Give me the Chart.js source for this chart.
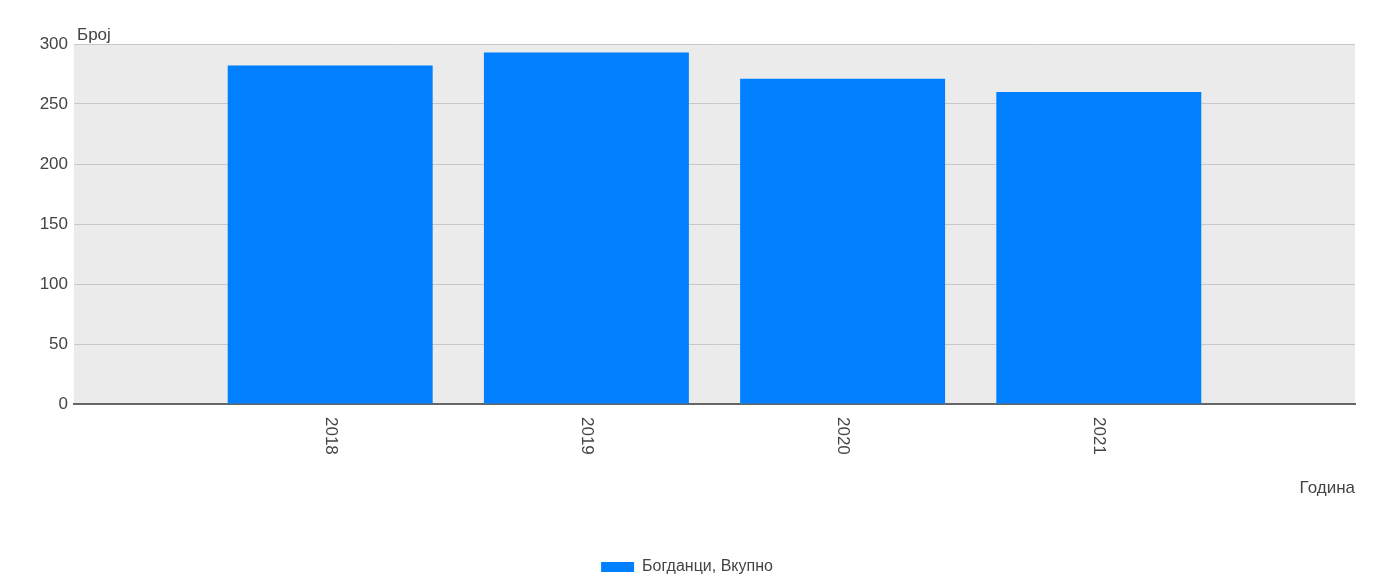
<!DOCTYPE html>
<html>
<head>
<meta charset="utf-8">
<script src="https://cdn.jsdelivr.net/npm/chart.js@4"></script>
<style>
  html, body { margin: 0; padding: 0; background: #fff; }
  #wrap { width: 1374px; height: 586px; }
</style>
</head>
<body>
<div id="wrap"><canvas id="grafico" width="1374" height="586"></canvas></div>
<script>
var godini = ['2018', '2019', '2020', '2021'];
var vrednosti = [282, 293, 271, 260];
var serija = 'Богданци, Вкупно';
var yTicks = [0, 50, 100, 150, 200, 250, 300];

// prazni kategorii na krajevite za da se dobie prostor levo i desno
var labels = [''].concat(godini, ['']);
var podatoci = [null].concat(vrednosti, [null]);

var fontFam = '"Liberation Sans", Arial, sans-serif';

var pozadina = {
    id: 'pozadina',
    beforeDraw: function (chart) {
        var a = chart.chartArea, ctx = chart.ctx;
        ctx.save();
        ctx.fillStyle = '#ebebeb';
        ctx.fillRect(a.left, a.top, a.right - a.left, a.bottom - a.top);
        ctx.restore();
    },
    afterDraw: function (chart) {
        var ctx = chart.ctx, x = chart.scales.x, a = chart.chartArea;
        ctx.save();
        ctx.fillStyle = '#444';
        ctx.font = '17px ' + fontFam;
        // naslov na y oskata
        ctx.textAlign = 'left';
        ctx.textBaseline = 'middle';
        ctx.fillText('Број', a.left + 3, a.top - 9);
        // godini, rotirani odozgora nadolu
        godini.forEach(function (g, i) {
            var px = x.getPixelForValue(i + 1);
            ctx.save();
            ctx.translate(px, a.bottom + 13);
            ctx.rotate(Math.PI / 2);
            ctx.textAlign = 'left';
            ctx.textBaseline = 'middle';
            ctx.fillText(g, 0, 0);
            ctx.restore();
        });
        ctx.restore();
    }
};

var chart = new Chart(document.getElementById('grafico').getContext('2d'), {
    type: 'bar',
    data: {
        labels: labels,
        datasets: [{
            label: serija,
            data: podatoci,
            backgroundColor: '#0080ff',
            borderWidth: 0,
            categoryPercentage: 1,
            barPercentage: 0.8
        }]
    },
    options: {
        responsive: false,
        animation: false,
        layout: { padding: { top: 44, right: 19, left: 19, bottom: 1 } },
        scales: {
            x: {
                offset: false,
                grid: { display: false },
                border: { display: true, color: '#666', width: 2 },
                ticks: { display: false },
                title: {
                    display: true,
                    text: 'Година',
                    align: 'end',
                    color: '#444',
                    font: { family: fontFam, size: 17 },
                    padding: { top: 0, bottom: 0 }
                },
                afterFit: function (s) { s.height = 95; }
            },
            y: {
                min: 0,
                max: 300,
                afterBuildTicks: function (s) {
                    s.ticks = yTicks.map(function (v) { return { value: v }; });
                },
                grid: { color: '#c8c8c8', drawTicks: false },
                border: { display: false },
                ticks: {
                    color: '#444',
                    padding: 6,
                    font: { family: fontFam, size: 17 }
                },
                afterFit: function (s) { s.width = 55; }
            }
        },
        plugins: {
            legend: {
                position: 'bottom',
                labels: {
                    boxWidth: 33,
                    boxHeight: 10,
                    padding: 60,
                    color: '#444',
                    font: { family: fontFam, size: 16 }
                }
            },
            tooltip: { enabled: false }
        }
    },
    plugins: [pozadina]
});
</script>
</body>
</html>
